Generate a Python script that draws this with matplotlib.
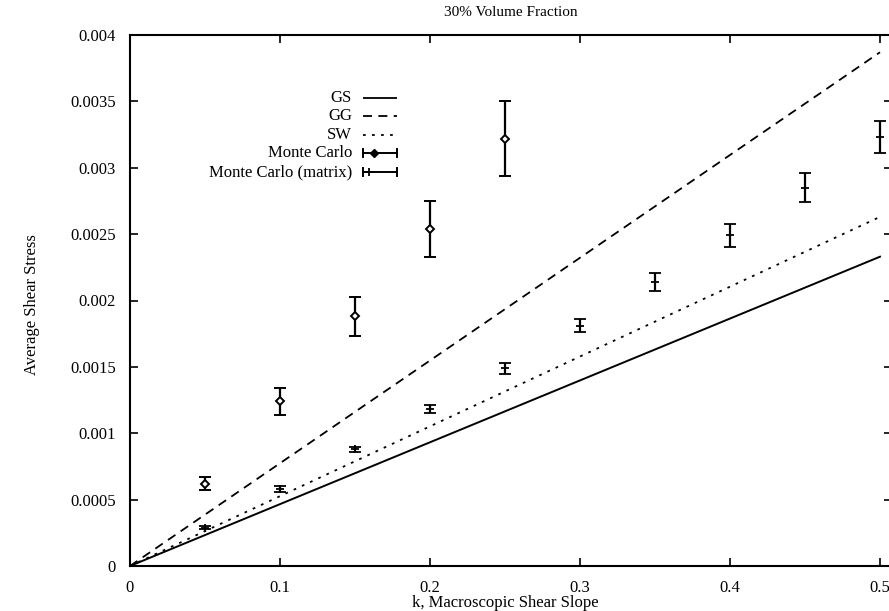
import numpy as np
import matplotlib
matplotlib.use('Agg')
import matplotlib.pyplot as plt
from matplotlib.lines import Line2D
from matplotlib.ticker import FuncFormatter

plt.rcParams['font.family'] = ['Liberation Serif', 'DejaVu Serif']
plt.rcParams['font.size'] = 12

# Analytical bounds (straight lines through the origin)
line_k = [0.0, 0.5]
gs_stress = [0.0, 0.00233]
gg_stress = [0.0, 0.00387]
sw_stress = [0.0, 0.00263]

# Monte Carlo results
mc_k = [0.05, 0.10, 0.15, 0.20, 0.25]
mc_stress = [0.00062, 0.00124, 0.00188, 0.00254, 0.00322]
mc_err = [0.00005, 0.00010, 0.00015, 0.00021, 0.00028]

# Monte Carlo (matrix) results
mcm_k = [0.05, 0.10, 0.15, 0.20, 0.25, 0.30, 0.35, 0.40, 0.45, 0.50]
mcm_stress = [0.00029, 0.00058, 0.00088, 0.00118, 0.00149,
              0.00181, 0.00214, 0.00249, 0.00285, 0.00323]
mcm_err = [0.000015, 0.00002, 0.00002, 0.00003, 0.00004,
           0.00005, 0.00007, 0.00009, 0.00011, 0.00012]

x_ticks = [0.0, 0.1, 0.2, 0.3, 0.4, 0.5]
y_ticks = [0.0, 0.0005, 0.001, 0.0015, 0.002, 0.0025, 0.003, 0.0035, 0.004]

W, H = 889, 611
fig = plt.figure(figsize=(W / 100, H / 100), dpi=100)
# axes box in pixels: left 130, right 892, top 35, bottom 566
ax = fig.add_axes([130 / W, (H - 566) / H, 762 / W, 531 / H])

ax.plot(line_k, gs_stress, color='black', lw=1.4, ls='-')
ax.plot(line_k, gg_stress, color='black', lw=1.3, ls=(0, (5, 3.5)))
ax.plot(line_k, sw_stress, color='black', lw=1.3, ls=(0, (1.5, 3.5)))

ax.errorbar(mc_k, mc_stress, yerr=mc_err, fmt='D', ms=4.5, mfc='white',
            mec='black', mew=1.4, ecolor='black', elinewidth=1.6,
            capsize=4, capthick=1.5)
ax.errorbar(mcm_k, mcm_stress, yerr=mcm_err, fmt='+', ms=6, mec='black',
            mew=1.3, ecolor='black', elinewidth=1.6, capsize=4, capthick=1.5)

ax.set_xlim(0, 0.508)
ax.set_ylim(0, 0.004)
ax.set_xticks(x_ticks)
ax.set_yticks(y_ticks)
fmt = FuncFormatter(lambda v, p: '%g' % v)
ax.xaxis.set_major_formatter(fmt)
ax.yaxis.set_major_formatter(fmt)
ax.tick_params(direction='in', length=6, width=1.2, top=True, right=True,
               labelsize=12)
ax.tick_params(axis='y', pad=10)
ax.tick_params(axis='x', pad=10)
for s in ax.spines.values():
    s.set_linewidth(1.5)

fig.text(511 / W, 1 - 13 / H, '30% Volume Fraction',
         ha='center', va='center', fontsize=11)
fig.text(505 / W, 1 - 603 / H, 'k, Macroscopic Shear Slope',
         ha='center', va='center', fontsize=12)
fig.text(32 / W, 1 - 305 / H, 'Average Shear Stress',
         rotation=90, ha='center', va='center', fontsize=12)

# gnuplot-style key: right aligned text, sample on the right
labels = ['GS', 'GG', 'SW', 'Monte Carlo', 'Monte Carlo (matrix)']
key_y = [98, 116, 135, 153, 172]
tx, x0, x1 = 352, 363, 397
styles = [(0, ()), (0, (5, 3.5)), (0, (1.5, 3.5))]
for i, (lab, yp) in enumerate(zip(labels, key_y)):
    fy = 1 - yp / H
    fig.text(tx / W, fy, lab, ha='right', va='center', fontsize=12)
    if i < 3:
        fig.add_artist(Line2D([x0 / W, x1 / W], [fy, fy], color='black',
                              lw=1.3, ls=styles[i], transform=fig.transFigure))
    else:
        fig.add_artist(Line2D([x0 / W, x1 / W], [fy, fy], color='black',
                              lw=1.4, transform=fig.transFigure))
        for xc in (x0, x1):
            fig.add_artist(Line2D([xc / W, xc / W], [fy - 4 / H, fy + 4 / H],
                                  color='black', lw=1.4,
                                  transform=fig.transFigure))
        if i == 3:
            fig.add_artist(Line2D([374 / W], [fy], marker='D', ms=4.5,
                                  mfc='black', mec='black',
                                  transform=fig.transFigure))
        else:
            fig.add_artist(Line2D([369 / W], [fy], marker='+', ms=6, mew=1.3,
                                  mec='black', transform=fig.transFigure))

fig.savefig('out.png', dpi=100)
